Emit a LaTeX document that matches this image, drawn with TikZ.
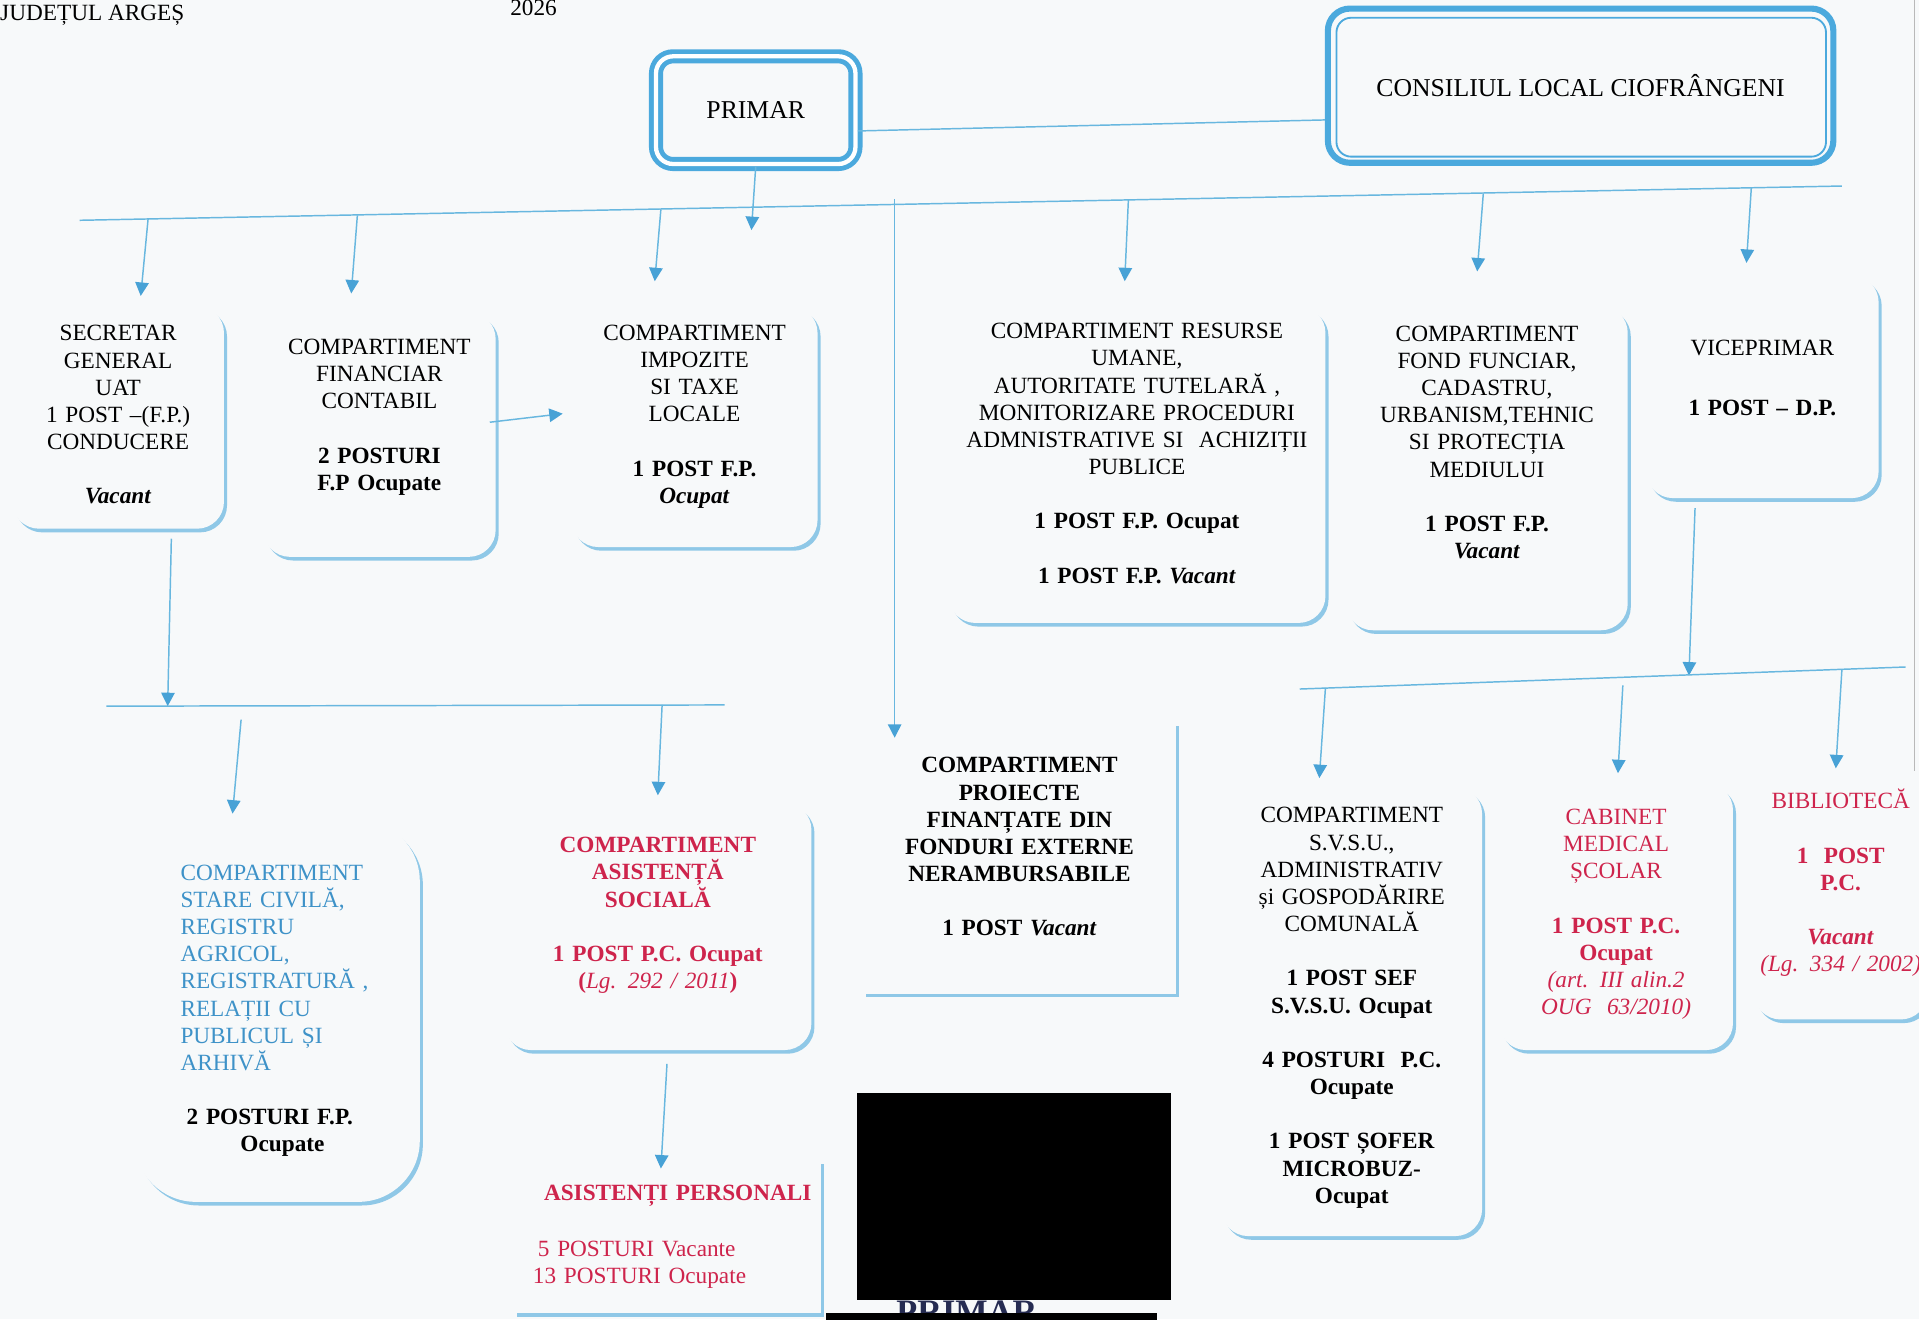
\documentclass[tikz,border=0pt]{standalone}
\usepackage{fontspec}
\setmainfont{Liberation Serif}
\usepackage{tikz}
\usetikzlibrary{arrows.meta, shadows}

\definecolor{pagebg}{RGB}{247,249,250}
\definecolor{frameblue}{RGB}{75,169,221}
\definecolor{arrowblue}{RGB}{104,183,223}
\definecolor{tipblue}{RGB}{72,162,214}
\definecolor{edgeblue}{RGB}{143,200,231}
\definecolor{redtext}{RGB}{206,36,76}
\definecolor{bluetext}{RGB}{62,146,200}
\definecolor{stampblue}{RGB}{38,44,82}

\newcommand{\bodyfont}{\fontsize{19}{22.2}\selectfont}
\newcommand{\headfont}{\fontsize{21}{24}\selectfont}
\newcommand{\boxpad}[1]{\par\vskip#1\hrule height 0pt\relax}

\begin{document}
\begin{tikzpicture}[x=1pt, y=-1pt,
    unit/.style={rectangle, rounded corners=22pt, fill=pagebg, align=center, inner sep=3pt, font=\bodyfont,
        drop shadow={shadow xshift=2.5pt, shadow yshift=-3pt, fill=edgeblue, opacity=1}},
    flatunit/.style={unit, sharp corners},
    link/.style={draw=arrowblue, line width=1.2pt},
    arr/.style={link, -{Triangle[width=11pt, length=11pt, color=tipblue]}},
  ]
  % Page
  \fill[pagebg] (0,0) rectangle (1568,1078);
  \useasboundingbox (0,0) rectangle (1568,1078);
  \clip (0,0) rectangle (1568,1078);
  \node[anchor=base west, inner sep=0pt, font=\bodyfont] (judet) at (0,17) {JUDEȚUL ARGEȘ};
  \node[anchor=base, inner sep=0pt, font=\bodyfont] (an) at (436,13) {2026};
  \draw[gray!55, line width=1pt] (1564,0) -- (1564,630);

  % Top level
  \node[draw=frameblue, line width=4pt, double=white, double distance=3.5pt, rounded corners=14pt,
        fill=pagebg, minimum width=163pt, minimum height=88pt, font=\headfont] (primar) at (617.5,90) {PRIMAR};
  \node[draw=frameblue, line width=5pt, rounded corners=18pt, fill=pagebg,
        minimum width=413pt, minimum height=126pt, font=\headfont] (consiliu) at (1291.5,70) {CONSILIUL LOCAL CIOFRÂNGENI};
  \draw[frameblue, line width=1.5pt, rounded corners=12pt] ([xshift=9.5pt, yshift=-10pt]consiliu.north west) rectangle ([xshift=-8.5pt, yshift=7.5pt]consiliu.south east);

  % First row
  \node[unit, minimum width=173pt, minimum height=182pt, text width=165pt] (secretar) at (96.5,341)
    {SECRETAR\\ GENERAL\\ UAT\\ 1 POST –(F.P.)\\ CONDUCERE\\[22.2pt] \textbf{\textit{Vacant}}\boxpad{4pt}};
  \node[unit, minimum width=190pt, minimum height=200pt, text width=182pt] (financiar) at (310,355)
    {COMPARTIMENT\\ FINANCIAR\\ CONTABIL\\[22.2pt] \textbf{2 POSTURI}\\ \textbf{F.P Ocupate}\boxpad{28pt}};
  \node[unit, minimum width=201pt, minimum height=197pt, text width=190pt] (impozite) at (567.5,348.5)
    {COMPARTIMENT\\ IMPOZITE\\ SI TAXE\\ LOCALE\\[22.2pt] \textbf{1 POST F.P.}\\ \textbf{\textit{Ocupat}}\boxpad{16pt}};
  \node[unit, minimum width=308pt, minimum height=259pt, text width=300pt] (resurse) at (929,379.5)
    {COMPARTIMENT RESURSE\\ UMANE,\\ AUTORITATE TUTELARĂ ,\\ MONITORIZARE PROCEDURI\\ ADMNISTRATIVE SI\ \ ACHIZIȚII\\ PUBLICE\\[22.2pt]
     \textbf{1 POST F.P. Ocupat}\\[22.2pt] \textbf{1 POST F.P. \textit{Vacant}}\boxpad{18pt}};
  \node[unit, minimum width=230pt, minimum height=265pt, text width=222pt] (fond) at (1215,382.5)
    {COMPARTIMENT\\ FOND FUNCIAR,\\ CADASTRU,\\ URBANISM,TEHNIC\\ SI PROTECȚIA\\ MEDIULUI\\[22.2pt] \textbf{1 POST F.P.}\\ \textbf{\textit{Vacant}}\boxpad{42pt}};
  \node[unit, minimum width=190pt, minimum height=182pt, text width=182pt] (vice) at (1440,316)
    {VICEPRIMAR\\[26.6pt] \textbf{1 POST – D.P.}\boxpad{14pt}};

  % Second row
  \node[unit, rounded corners=50pt, minimum width=233pt, minimum height=312pt, text width=158pt, align=left, text=bluetext] (stare) at (226.5,826)
    {COMPARTIMENT\\ STARE CIVILĂ,\\ REGISTRU\\ AGRICOL,\\ REGISTRATURĂ ,\\ RELAȚII CU\\ PUBLICUL ȘI\\ ARHIVĂ\\[22.2pt]
     \textcolor{black}{\textbf{\hspace*{5pt}2 POSTURI F.P.}}\\ \textcolor{black}{\textbf{\hspace*{49pt}Ocupate}}};
  \node[unit, minimum width=251pt, minimum height=202pt, text width=243pt, text=redtext] (sociala) at (537.5,757)
    {\textbf{COMPARTIMENT}\\ \textbf{ASISTENȚĂ}\\ \textbf{SOCIALĂ}\\[22.2pt] \textbf{1 POST P.C. Ocupat}\\ \textbf{(}\textit{Lg. 292 / 2011}\textbf{)}\boxpad{18pt}};
  \node[flatunit, minimum width=251pt, minimum height=125pt, text width=236pt, align=left, text=redtext] (personali) at (545.5,1010.5)
    {\hspace*{17pt}\textbf{ASISTENȚI PERSONALI}\\[24pt] \hspace*{12pt}5 POSTURI Vacante\\ \hspace*{8pt}13 POSTURI Ocupate};
  \node[flatunit, minimum width=256pt, minimum height=222pt, text width=248pt, font=\bodyfont\bfseries] (proiecte) at (833,701)
    {COMPARTIMENT\\ PROIECTE\\ FINANȚATE DIN\\ FONDURI EXTERNE\\ NERAMBURSABILE\\[22.2pt] 1 POST \textit{Vacant}\boxpad{18pt}};
  \node[unit, minimum width=213pt, minimum height=367pt, text width=205pt] (svsu) at (1104.5,826.5)
    {COMPARTIMENT\\ S.V.S.U.,\\ ADMINISTRATIV\\ și GOSPODĂRIRE\\ COMUNALĂ\\[22.2pt] \textbf{1 POST SEF}\\ \textbf{S.V.S.U. Ocupat}\\[22.2pt]
     \textbf{4 POSTURI\ \ P.C.}\\ \textbf{Ocupate}\\[22.2pt] \textbf{1 POST ȘOFER}\\ \textbf{MICROBUZ-}\\ \textbf{Ocupat}\boxpad{6pt}};
  \node[unit, minimum width=191pt, minimum height=218pt, text width=183pt, text=redtext] (cabinet) at (1320.5,749)
    {CABINET\\ MEDICAL\\ ȘCOLAR\\[22.2pt] \textbf{1 POST P.C.}\\ \textbf{Ocupat}\\ \textit{(art. III alin.2}\\ \textit{OUG\ \ 63/2010)}\boxpad{4pt}};
  \node[unit, minimum width=142pt, minimum height=193pt, text width=134pt, text=redtext] (biblioteca) at (1504,736.5)
    {BIBLIOTECĂ\\[22.2pt] \textbf{1\ \ POST}\\ \textbf{P.C.}\\[22.2pt] \textbf{\textit{Vacant}}\\ \textit{(Lg. 334 / 2002)}\boxpad{30pt}};

  % Redacted stamp
  \fill[black] (700,893) rectangle (957,1062);
  \node[anchor=north, inner sep=0pt, text=stampblue, font=\fontsize{28}{30}\selectfont\bfseries] (stamp) at (790,1063) {PRIMAR};
  \fill[black] (675,1073) rectangle (945,1080);

  % Help coordinates on the buses
  \coordinate (busL) at (65,180);
  \coordinate (busR) at (1505,152);
  \coordinate (tap-secretar) at (121,179);
  \coordinate (tap-financiar) at (292,176);
  \coordinate (tap-impozite) at (540,171);
  \coordinate (tap-proiecte) at (731,163);
  \coordinate (tap-resurse) at (922,163);
  \coordinate (tap-fond) at (1212,158);
  \coordinate (tap-vice) at (1431,153);
  \coordinate (tip-primar) at (614,188);
  \coordinate (bus2L) at (87,577);
  \coordinate (bus2R) at (592,576);
  \coordinate (tip-secretar) at (137,577);
  \coordinate (tap-stare) at (197,588);
  \coordinate (tap-sociala) at (541,576);
  \coordinate (bus3L) at (1062,563);
  \coordinate (bus3R) at (1557,545);
  \coordinate (tip-vice) at (1380,552);
  \coordinate (tap-svsu) at (1083,562);
  \coordinate (tap-cabinet) at (1326,560);
  \coordinate (tap-biblio) at (1505,547);

  % Edges top
  \draw[link] ([yshift=-17pt]primar.east) -- ([yshift=-28pt]consiliu.west);
  \draw[link] (busL) -- (busR);
  \draw[arr] (primar.south) -- (tip-primar);
  \draw[arr] (tap-secretar) -- ([xshift=18.5pt, yshift=8pt]secretar.north);
  \draw[arr] (tap-financiar) -- ([xshift=-23pt, yshift=15pt]financiar.north);
  \draw[arr] (tap-impozite) -- ([xshift=-32.5pt, yshift=20pt]impozite.north);
  \draw[arr] (tap-proiecte) -- ([xshift=-102pt, yshift=-13pt]proiecte.north);
  \draw[arr] (tap-resurse) -- ([xshift=-10pt, yshift=20pt]resurse.north);
  \draw[arr] (tap-fond) -- ([xshift=-8pt, yshift=28pt]fond.north);
  \draw[arr] (tap-vice) -- ([xshift=-13pt, yshift=10pt]vice.north);
  \draw[arr] ([xshift=-5pt, yshift=10pt]financiar.east) -- ([xshift=-7pt, yshift=10.5pt]impozite.west);
  % Edges left branch
  \draw[arr] ([xshift=43.5pt, yshift=-8pt]secretar.south) -- (tip-secretar);
  \draw[link] (bus2L) -- (bus2R);
  \draw[arr] (tap-stare) -- ([xshift=-36.5pt, yshift=5pt]stare.north);
  \draw[arr] (tap-sociala) -- ([yshift=6pt]sociala.north);
  \draw[arr] ([xshift=7.5pt, yshift=-11pt]sociala.south) -- ([xshift=-5.5pt, yshift=-7pt]personali.north);
  % Edges right branch
  \draw[arr] ([xshift=-55pt, yshift=-8pt]vice.south) -- (tip-vice);
  \draw[link] (bus3L) -- (bus3R);
  \draw[arr] (tap-svsu) -- ([xshift=-26.5pt, yshift=7pt]svsu.north);
  \draw[arr] (tap-cabinet) -- ([xshift=1.5pt, yshift=8pt]cabinet.north);
  \draw[arr] (tap-biblio) -- ([xshift=-4pt, yshift=12pt]biblioteca.north);
\end{tikzpicture}
\end{document}
